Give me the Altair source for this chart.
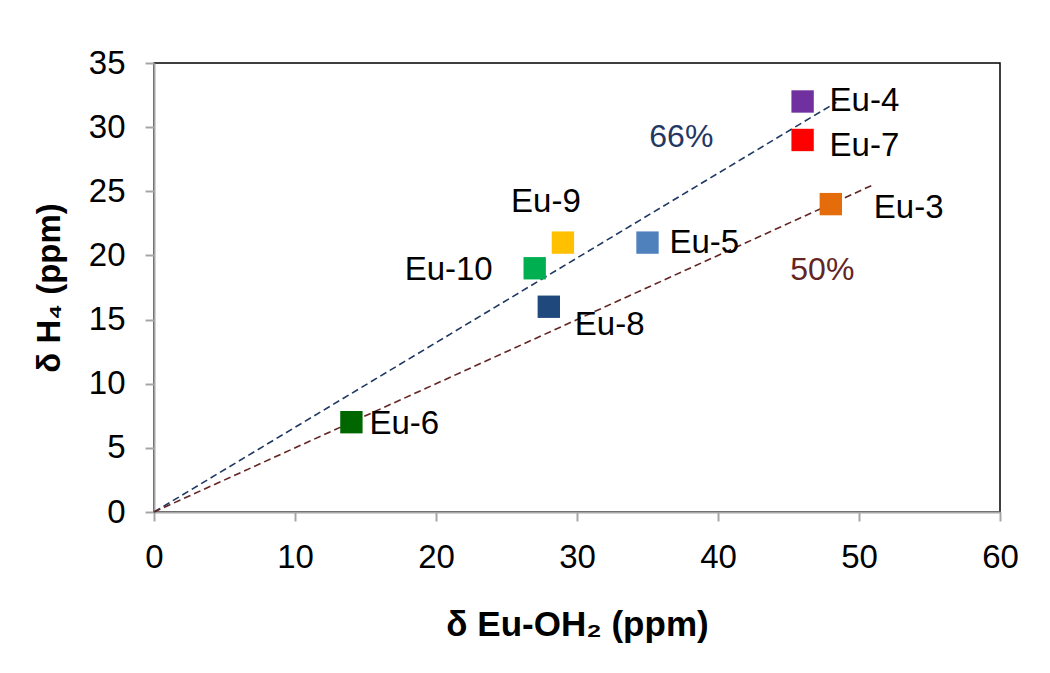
import altair as alt
import pandas as pd

# Data
names = ["Eu-3", "Eu-4", "Eu-5", "Eu-6", "Eu-7", "Eu-8", "Eu-9", "Eu-10"]
x_vals = [48, 46, 35, 14, 46, 28, 29, 27]
y_vals = [24, 32, 21, 7, 29, 16, 21, 19]
colors = ["#E46C0A", "#7030A0", "#4F81BD", "#006600", "#FF0000", "#1F497D", "#FFC000", "#00B050"]

line_names = ["66%", "50%"]
line_slopes = [0.66, 0.50]
line_x_end = [48.4, 51.0]
line_colors = ["#1F3864", "#632523"]
line_label_x = [37.4, 47.4]
line_label_y = [29.2, 18.9]

FONT = "Liberation Sans"

pts = pd.DataFrame({"name": names, "x": x_vals, "y": y_vals})

line_rows = []
for n, s, xe in zip(line_names, line_slopes, line_x_end):
    line_rows.append({"line": n, "x": 0.0, "y": 0.0})
    line_rows.append({"line": n, "x": xe, "y": s * xe})
lines_df = pd.DataFrame(line_rows)
lbl_df = pd.DataFrame({"line": line_names, "x": line_label_x, "y": line_label_y})

xscale = alt.Scale(domain=[0, 60], nice=False, zero=True)
yscale = alt.Scale(domain=[0, 35], nice=False, zero=True)

xenc = alt.X("x:Q", scale=xscale, axis=alt.Axis(
    title="δ Eu-OH₂ (ppm)", values=list(range(0, 61, 10)), titlePadding=33, labelPadding=20,
    labelFlush=False, titleFontSize=35))
yenc = alt.Y("y:Q", scale=yscale, axis=alt.Axis(
    title="δ H₄ (ppm)", values=list(range(0, 36, 5)), titlePadding=22, labelPadding=20,
    labelFlush=False))

line_color = alt.Color("line:N", scale=alt.Scale(domain=line_names, range=line_colors), legend=None)

lines = alt.Chart(lines_df).mark_line(strokeDash=[7, 4], strokeWidth=1.6).encode(
    x=xenc, y=yenc, color=line_color, detail="line:N")

line_labels = alt.Chart(lbl_df).mark_text(font=FONT, fontSize=32, align="center", baseline="middle").encode(
    x=xenc, y=yenc, text="line:N", color=line_color)

squares = alt.Chart(pts).mark_square(size=500, opacity=1, filled=True).encode(
    x=xenc, y=yenc,
    color=alt.Color("name:N", scale=alt.Scale(domain=names, range=colors), legend=None))

# label placement relative to each point (pixels)
label_style = {
    "Eu-4": ("left", 27, 0),
    "Eu-7": ("left", 27, 6),
    "Eu-3": ("left", 43, 4),
    "Eu-5": ("left", 22, 0),
    "Eu-9": ("center", -17, -41),
    "Eu-10": ("right", -42, 2),
    "Eu-8": ("left", 26, 18),
    "Eu-6": ("left", 18, 2),
}
text_layers = []
for n, (al, dx, dy) in label_style.items():
    text_layers.append(
        alt.Chart(pts).transform_filter(alt.datum.name == n).mark_text(
            font=FONT, fontSize=33, align=al, baseline="middle", dx=dx, dy=dy, color="black"
        ).encode(x=xenc, y=yenc, text="name:N")
    )

chart = alt.layer(lines, squares, line_labels, *text_layers).resolve_scale(color="independent").properties(
    width=846, height=449,
    autosize=alt.AutoSizeParams(type="none"),
    padding={"left": 146, "top": 55, "right": 30, "bottom": 150},
).configure_view(stroke="black", strokeWidth=1.5).configure_axis(
    grid=False, domainColor="#A6A6A6", domainWidth=2, tickColor="#A6A6A6", tickWidth=2, tickSize=9,
    labelFont=FONT, labelFontSize=33, labelColor="black", titleFont=FONT, titleFontSize=33,
    titleFontWeight="bold", titleColor="black",
)

chart.save("out.html", embed_options={"renderer": "svg", "actions": False})
